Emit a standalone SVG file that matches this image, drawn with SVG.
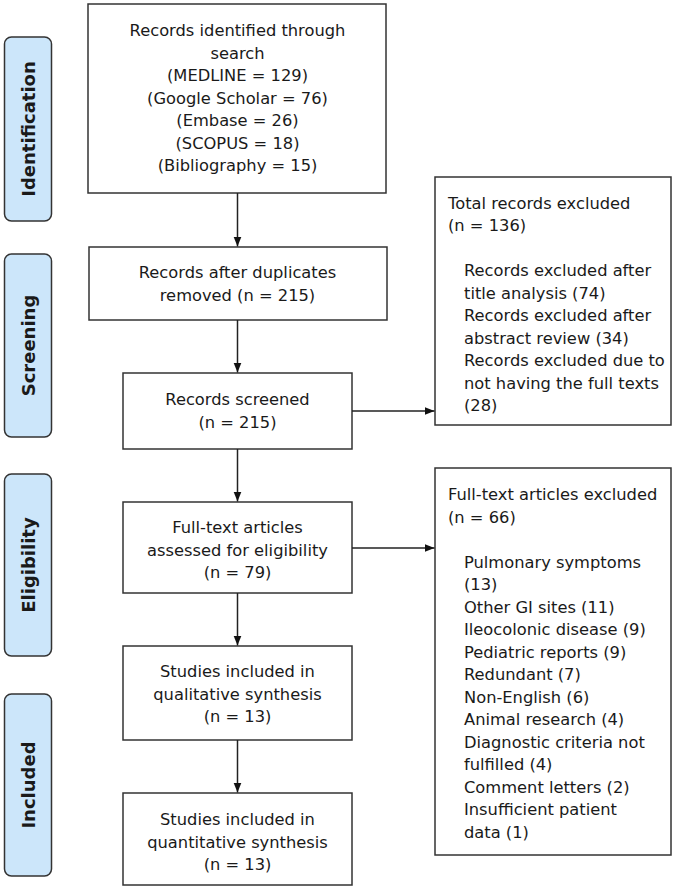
<svg xmlns="http://www.w3.org/2000/svg" width="675" height="889" viewBox="0 0 675 889">
<style>
.bg{fill:#ffffff}
.box{fill:#ffffff;stroke:#333333;stroke-width:1.5}
.side{fill:#cce6fa;stroke:#333333;stroke-width:1.5}
.t{font-family:"DejaVu Sans","Verdana",sans-serif;font-size:16.3px;fill:#1a1a1a}
.c{text-anchor:middle}
.s{font-family:"DejaVu Sans","Verdana",sans-serif;font-size:18px;font-weight:bold;fill:#1a1a1a;text-anchor:middle}
.line{fill:none;stroke:#222222;stroke-width:1.5}
</style>
<defs>
<marker id="ah" markerUnits="userSpaceOnUse" markerWidth="10" markerHeight="10" viewBox="0 0 10 10" refX="10" refY="5" orient="auto">
<path d="M0,1 L10,5 L0,9 Z" fill="#111111"/>
</marker>
</defs>
<rect class="bg" x="0" y="0" width="675" height="889"/>

<g id="phase-identification">
<rect class="side" x="4.5" y="37" width="47" height="184" rx="7"/>
<text class="s" transform="translate(35,129) rotate(-90)">Identification</text>
</g>
<g id="phase-screening">
<rect class="side" x="4.5" y="254" width="47" height="183" rx="7"/>
<text class="s" transform="translate(35,345.5) rotate(-90)">Screening</text>
</g>
<g id="phase-eligibility">
<rect class="side" x="4.5" y="474" width="47" height="182" rx="7"/>
<text class="s" transform="translate(35,565) rotate(-90)">Eligibility</text>
</g>
<g id="phase-included">
<rect class="side" x="4.5" y="694" width="47" height="182" rx="7"/>
<text class="s" transform="translate(35,785) rotate(-90)">Included</text>
</g>

<g id="identified">
<rect class="box" x="88" y="4" width="298" height="189"/>
<text class="t c" x="237.5" y="36">Records identified through</text>
<text class="t c" x="237.5" y="58.5">search</text>
<text class="t c" x="237.5" y="81">(MEDLINE = 129)</text>
<text class="t c" x="237.5" y="103.5">(Google Scholar = 76)</text>
<text class="t c" x="237.5" y="126">(Embase = 26)</text>
<text class="t c" x="237.5" y="148.5">(SCOPUS = 18)</text>
<text class="t c" x="237.5" y="171">(Bibliography = 15)</text>
</g>
<g id="duplicates">
<rect class="box" x="89" y="247" width="298" height="73"/>
<text class="t c" x="237.5" y="278">Records after duplicates</text>
<text class="t c" x="237.5" y="300.5">removed (n = 215)</text>
</g>
<g id="screened">
<rect class="box" x="123" y="373" width="229" height="76"/>
<text class="t c" x="237.5" y="405">Records screened</text>
<text class="t c" x="237.5" y="427.5">(n = 215)</text>
</g>
<g id="fulltext">
<rect class="box" x="123" y="502" width="229" height="91"/>
<text class="t c" x="237.5" y="533">Full-text articles</text>
<text class="t c" x="237.5" y="555.5">assessed for eligibility</text>
<text class="t c" x="237.5" y="578">(n = 79)</text>
</g>
<g id="qualitative">
<rect class="box" x="123" y="646" width="229" height="94"/>
<text class="t c" x="237.5" y="677">Studies included in</text>
<text class="t c" x="237.5" y="699.5">qualitative synthesis</text>
<text class="t c" x="237.5" y="722">(n = 13)</text>
</g>
<g id="quantitative">
<rect class="box" x="123" y="793" width="229" height="92"/>
<text class="t c" x="237.5" y="825">Studies included in</text>
<text class="t c" x="237.5" y="847.5">quantitative synthesis</text>
<text class="t c" x="237.5" y="870">(n = 13)</text>
</g>

<g id="excluded-records">
<rect class="box" x="435" y="177" width="236" height="248"/>
<text class="t" x="448" y="208.5">Total records excluded</text>
<text class="t" x="448" y="231">(n = 136)</text>
<text class="t" x="464" y="276">Records excluded after</text>
<text class="t" x="464" y="298.5">title analysis (74)</text>
<text class="t" x="464" y="321">Records excluded after</text>
<text class="t" x="464" y="343.5">abstract review (34)</text>
<text class="t" x="464" y="366">Records excluded due to</text>
<text class="t" x="464" y="388.5">not having the full texts</text>
<text class="t" x="464" y="411">(28)</text>
</g>
<g id="excluded-fulltext">
<rect class="box" x="435" y="468" width="236" height="387"/>
<text class="t" x="448" y="500">Full-text articles excluded</text>
<text class="t" x="448" y="522.5">(n = 66)</text>
<text class="t" x="464" y="567.5">Pulmonary symptoms</text>
<text class="t" x="464" y="590">(13)</text>
<text class="t" x="464" y="612.5">Other GI sites (11)</text>
<text class="t" x="464" y="635">Ileocolonic disease (9)</text>
<text class="t" x="464" y="657.5">Pediatric reports (9)</text>
<text class="t" x="464" y="680">Redundant (7)</text>
<text class="t" x="464" y="702.5">Non-English (6)</text>
<text class="t" x="464" y="725">Animal research (4)</text>
<text class="t" x="464" y="747.5">Diagnostic criteria not</text>
<text class="t" x="464" y="770">fulfilled (4)</text>
<text class="t" x="464" y="792.5">Comment letters (2)</text>
<text class="t" x="464" y="815">Insufficient patient</text>
<text class="t" x="464" y="837.5">data (1)</text>
</g>

<g id="connectors">
<line class="line" x1="237.5" y1="193" x2="237.5" y2="246.5" marker-end="url(#ah)"/>
<line class="line" x1="237.5" y1="320" x2="237.5" y2="372.5" marker-end="url(#ah)"/>
<line class="line" x1="237.5" y1="449" x2="237.5" y2="501.5" marker-end="url(#ah)"/>
<line class="line" x1="237.5" y1="593" x2="237.5" y2="645.5" marker-end="url(#ah)"/>
<line class="line" x1="237.5" y1="740" x2="237.5" y2="792.5" marker-end="url(#ah)"/>
<line class="line" x1="352" y1="411" x2="434.5" y2="411" marker-end="url(#ah)"/>
<line class="line" x1="352" y1="548" x2="434.5" y2="548" marker-end="url(#ah)"/>
</g>
</svg>
